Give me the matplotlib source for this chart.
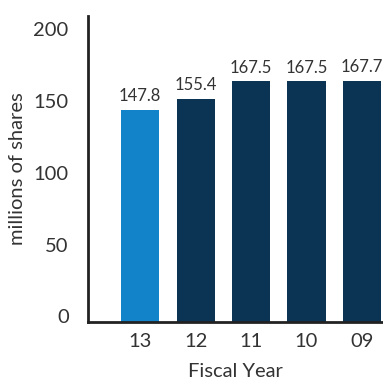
import matplotlib
matplotlib.use("Agg")
import matplotlib.pyplot as plt
import matplotlib.transforms as mtransforms
import numpy as np

years = ["13", "12", "11", "10", "09"]
shares = [147.8, 155.4, 167.5, 167.5, 167.7]
bar_colors = ["#1283c9", "#0b3454", "#0b3454", "#0b3454", "#0b3454"]
yticks = [0, 50, 100, 150, 200]

plt.rcParams["font.family"] = ["Lato", "DejaVu Sans"]

fig = plt.figure(figsize=(3.83, 3.86), dpi=100)
ax = fig.add_axes([0.23, 0.166, 0.77, 0.7925])

x = np.arange(len(years))
ax.bar(x, shares, width=0.69, color=bar_colors)
for xi, v in zip(x, shares):
    ax.text(xi, v + 4, f"{v:.1f}", ha="center", va="bottom", fontsize=12,
            color="#333333")

ax.set_xlim(-0.94, 4.38)
ax.set_ylim(0, 213)
ax.set_xticks(x, years)
ax.set_yticks(yticks)
ax.tick_params(length=0, labelsize=14.5, labelcolor="#333333", pad=8)
ax.tick_params(axis="y", pad=14)

# y tick labels sit a little above their values in the original
offset = mtransforms.ScaledTranslation(0, 4 / 72, fig.dpi_scale_trans)
for lbl in ax.get_yticklabels():
    lbl.set_transform(lbl.get_transform() + offset)

for s in ["top", "right"]:
    ax.spines[s].set_visible(False)
for s in ["left", "bottom"]:
    ax.spines[s].set_linewidth(2)
    ax.spines[s].set_color("#222222")

ax.set_ylabel("millions of shares", fontsize=14.5, color="#333333", labelpad=5)
ax.set_xlabel("Fiscal Year", fontsize=14.5, color="#333333", labelpad=9)

fig.savefig("out.png", dpi=100)
